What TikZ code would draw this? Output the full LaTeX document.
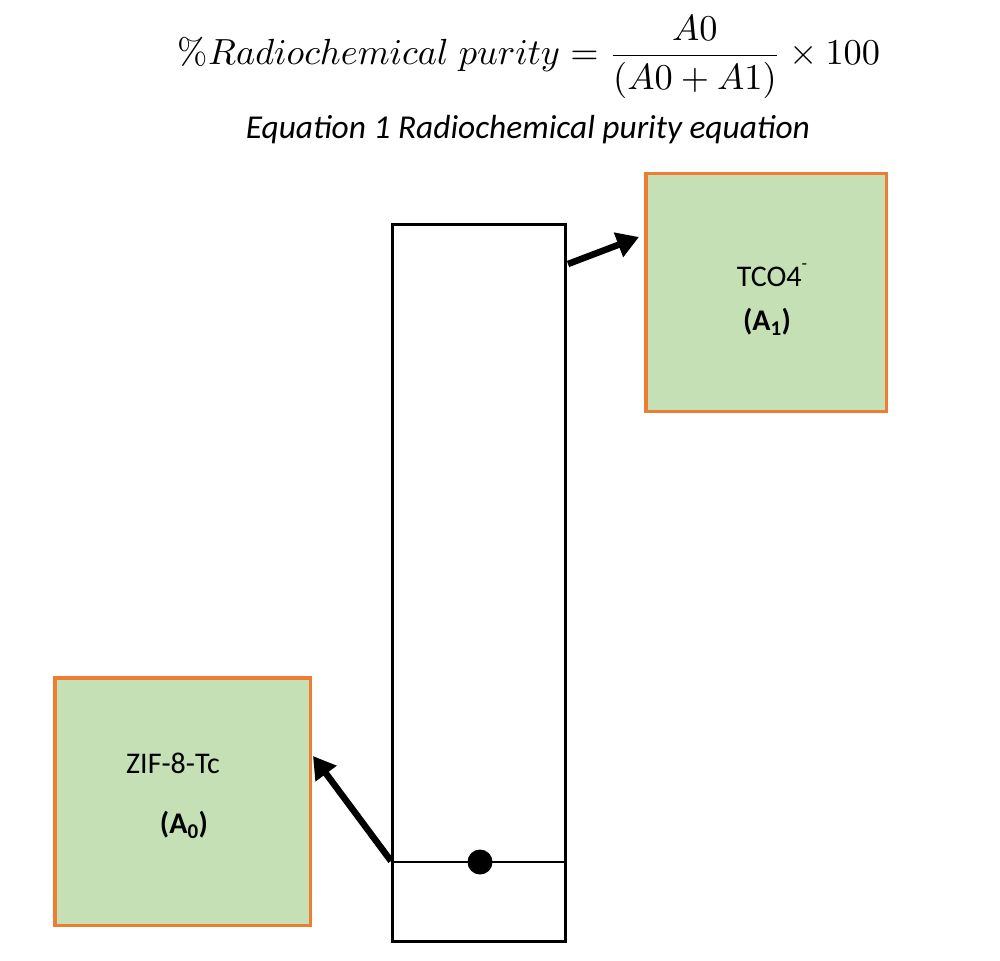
\documentclass[tikz,border=0pt]{standalone}
\usepackage{fontspec}
\newfontfamily\calib{Carlito}
\usetikzlibrary{arrows.meta}
\definecolor{boxgreen}{HTML}{C5E0B4}
\definecolor{boxorange}{HTML}{ED7D31}
\begin{document}
\begin{tikzpicture}[x=1pt,y=-1pt,
  result/.style={draw=boxorange, fill=boxgreen, line width=3.5pt, inner sep=0pt, outer sep=0pt},
  strip/.style={draw=black, line width=3pt, inner sep=0pt, outer sep=0pt, minimum width=173pt, minimum height=717pt},
  lbl/.style={font=\calib\fontsize{30}{34}\selectfont, inner sep=0pt},
  bigarrow/.style={line width=6.5pt, -{Triangle[length=22pt,width=25pt]}}]
\useasboundingbox (0,0) rectangle (1000,960);
% equation
\node (eq) at (529,57) {\resizebox{702pt}{!}{$\displaystyle \%Radiochemical\;purity=\frac{A0}{(A0+A1)}\times 100$}};
\node (cap) at (528,130) {\resizebox{564pt}{!}{\calib\itshape Equation 1 Radiochemical purity equation}};
% strip
\node[strip] (st) at (479,583) {};
\coordinate (sl) at (391,862);
\coordinate (sr) at (567,862);
\draw[line width=1.5pt] (sl) -- (sr);
\fill (480,862) circle (12.5);
% boxes
\node[result, minimum width=240.5pt, minimum height=237.5pt] (tco) at (766,292.5) {};
\node[lbl] (tcot) at (772,275) {TCO4\raisebox{17pt}{\fontsize{18}{18}\selectfont -}};
\node[lbl, font=\calib\bfseries\fontsize{30}{34}\selectfont] (a1) at (767,322) {(A\textsubscript{1})};
\node[result, minimum width=255.5pt, minimum height=247.5pt] (zif) at (182.5,801.5) {};
\node[lbl] (zift) at (173,763) {ZIF-8-Tc};
\node[lbl, font=\calib\bfseries\fontsize{30}{34}\selectfont] (a0) at (184,825) {(A\textsubscript{0})};
% arrows
\coordinate (s1) at (568,264);
\coordinate (t1) at (639,237);
\draw[bigarrow] (s1) -- (t1);
\coordinate (s2) at (391,861);
\coordinate (t2) at (313,756);
\draw[bigarrow] (s2) -- (t2);
\end{tikzpicture}
\end{document}
